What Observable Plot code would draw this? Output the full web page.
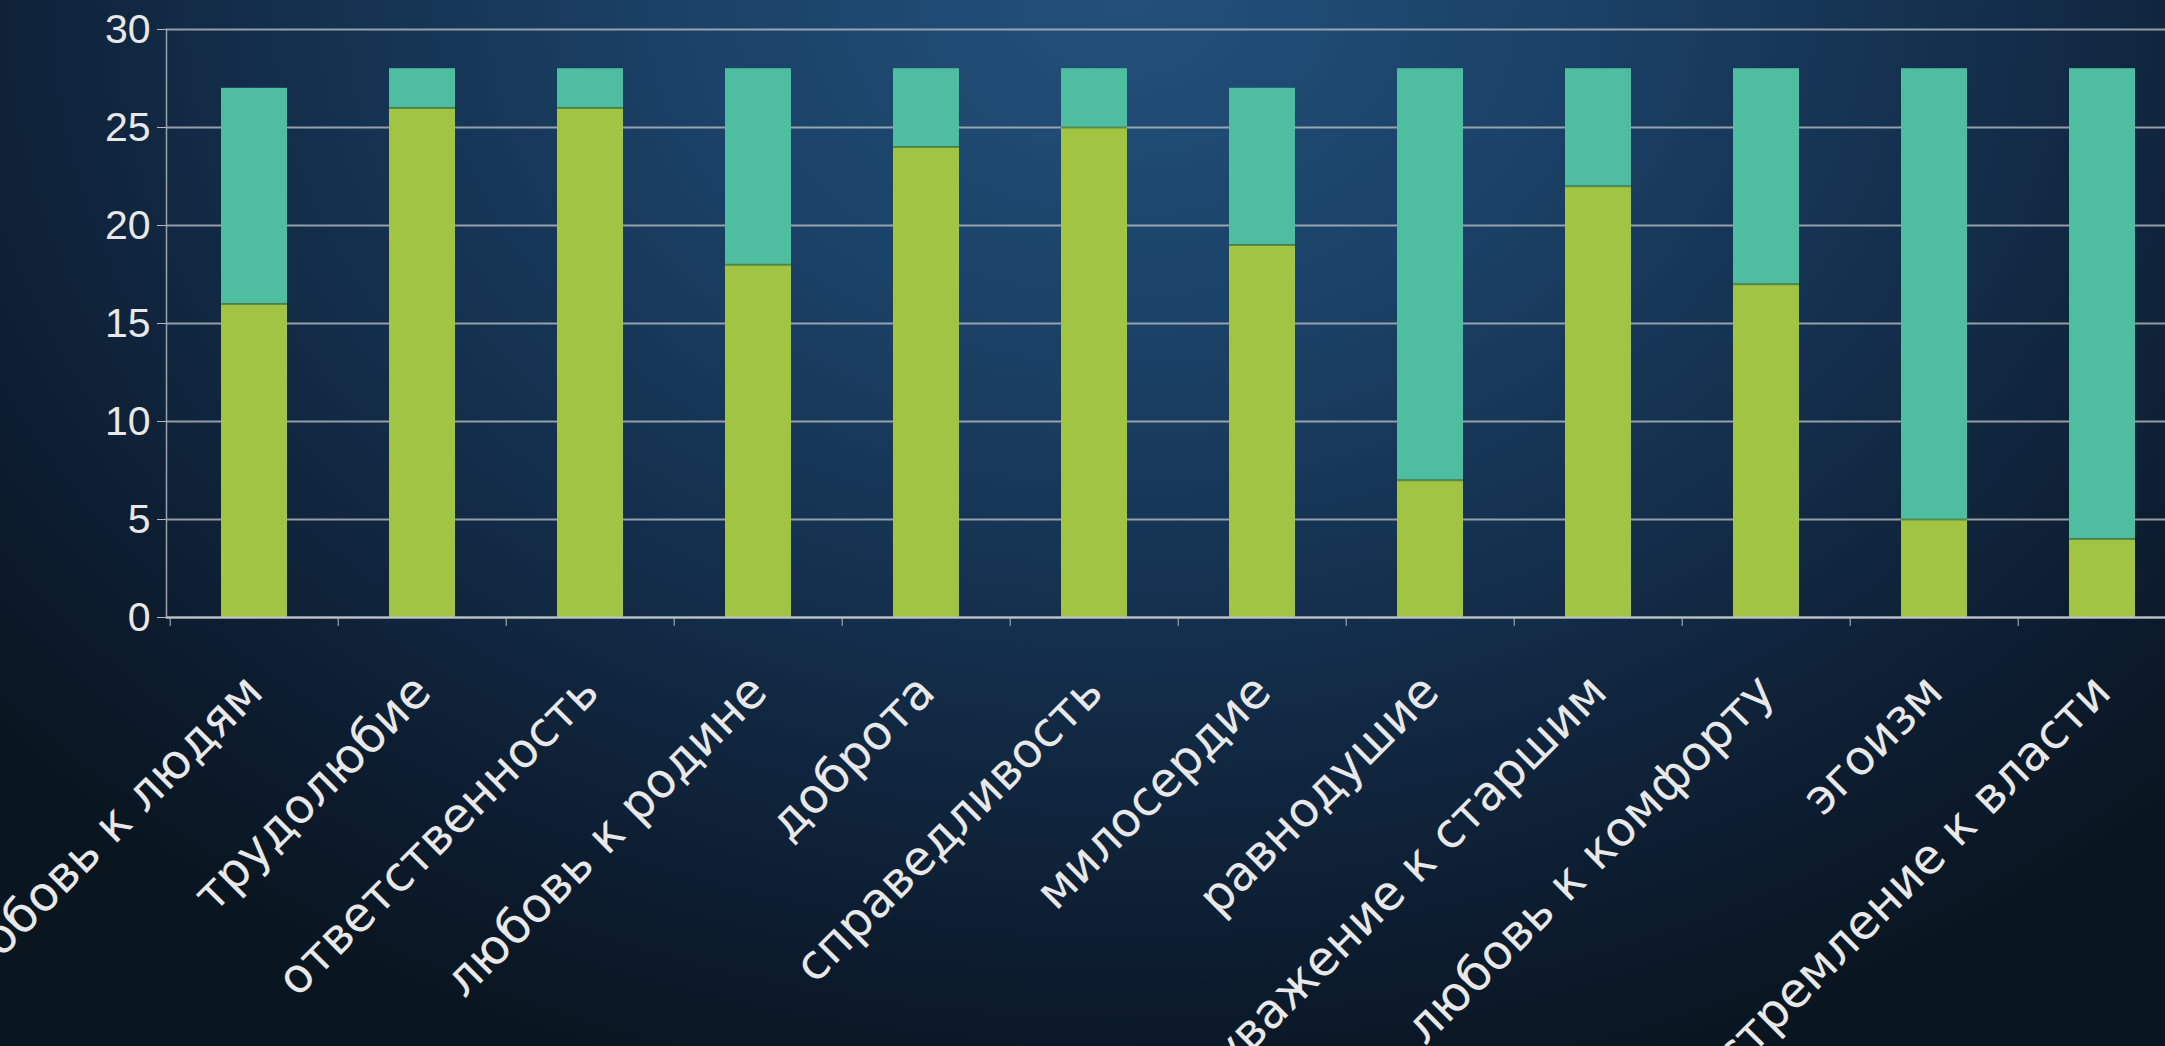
<!DOCTYPE html>
<html><head><meta charset="utf-8">
<script src="https://cdn.jsdelivr.net/npm/d3@7"></script>
<script src="https://cdn.jsdelivr.net/npm/@observablehq/plot@0.6"></script>
<style>
html,body{margin:0;padding:0;width:2165px;height:1046px;overflow:hidden;}
body{background: radial-gradient(ellipse 70% 110% at 52% 0%, #22507a 0%, #1b4268 28%, #132d4a 58%, #0c1b2d 85%, #09151f 100%);}
#chart svg{display:block;overflow:visible;max-width:none !important;}
</style></head><body><div id="chart"></div><script>
const categories = ["любовь к людям","трудолюбие","ответственность","любовь к родине","доброта","справедливость","милосердие","равнодушие","уважение к старшим","любовь к комфорту","эгоизм","стремление к власти"];
const seriesNames = ["Ряд 1","Ряд 2"];
const greenValues = [16,26,26,18,24,25,19,7,22,17,5,4];
const tealValues = [11,2,2,10,4,3,8,21,6,11,23,24];
const yTicks = [0,5,10,15,20,25,30];

const rows = [];
categories.forEach((c,i)=>{
  rows.push({cat:c, series:seriesNames[0], value:greenValues[i]});
  rows.push({cat:c, series:seriesNames[1], value:tealValues[i]});
});
const base = categories.map((c,i)=>({cat:c, green:greenValues[i]}));

const W = 2190, ML = 166, MR = 1;
const step = (W - ML - MR) / categories.length;

const chart = Plot.plot({
  width: W, height: 1046,
  marginLeft: ML, marginRight: MR, marginTop: 29, marginBottom: 429,
  style: {background: "transparent", color: "#e4e6e8", fontFamily: "Liberation Sans", overflow: "visible", maxWidth: "none"},
  x: {type: "band", domain: categories, paddingInner: 0.61, paddingOuter: 0.305, axis: null, label: null},
  y: {domain: [0, 30], axis: null, label: null},
  color: {domain: seriesNames, range: ["#a1c543", "#4fbea0"]},
  marks: [
    Plot.gridY(yTicks, {stroke: "#c0c4c8", strokeOpacity: 0.75, strokeWidth: 2}),
    Plot.frame({anchor: "left", stroke: "#9aa3ab", strokeWidth: 1.5}),
    Plot.barY(rows, Plot.stackY({x: "cat", y: "value", fill: "series", order: seriesNames})),
    Plot.tickY(base, {x: "cat", y: "green", stroke: "#3f7444", strokeWidth: 2, strokeOpacity: 0.7}),
    Plot.ruleY([0], {stroke: "#c0c4c8", strokeWidth: 2}),
    Plot.axisY(yTicks, {tickSize: 9, tickPadding: 7, fontSize: 41, stroke: "#b4bac0", fill: "#e8e8e8", label: null}),
    Plot.axisX({tickSize: 9, tickFormat: () => "", dx: -step / 2, stroke: "#b4bac0", label: null}),
    Plot.axisX({tickSize: 0, tickRotate: -45, tickPadding: 66, dx: 0, fontSize: 48, fontFamily: "DejaVu Sans", fill: "#e8e8e8", label: null})
  ]
});
document.getElementById("chart").appendChild(chart);
</script></body></html>
